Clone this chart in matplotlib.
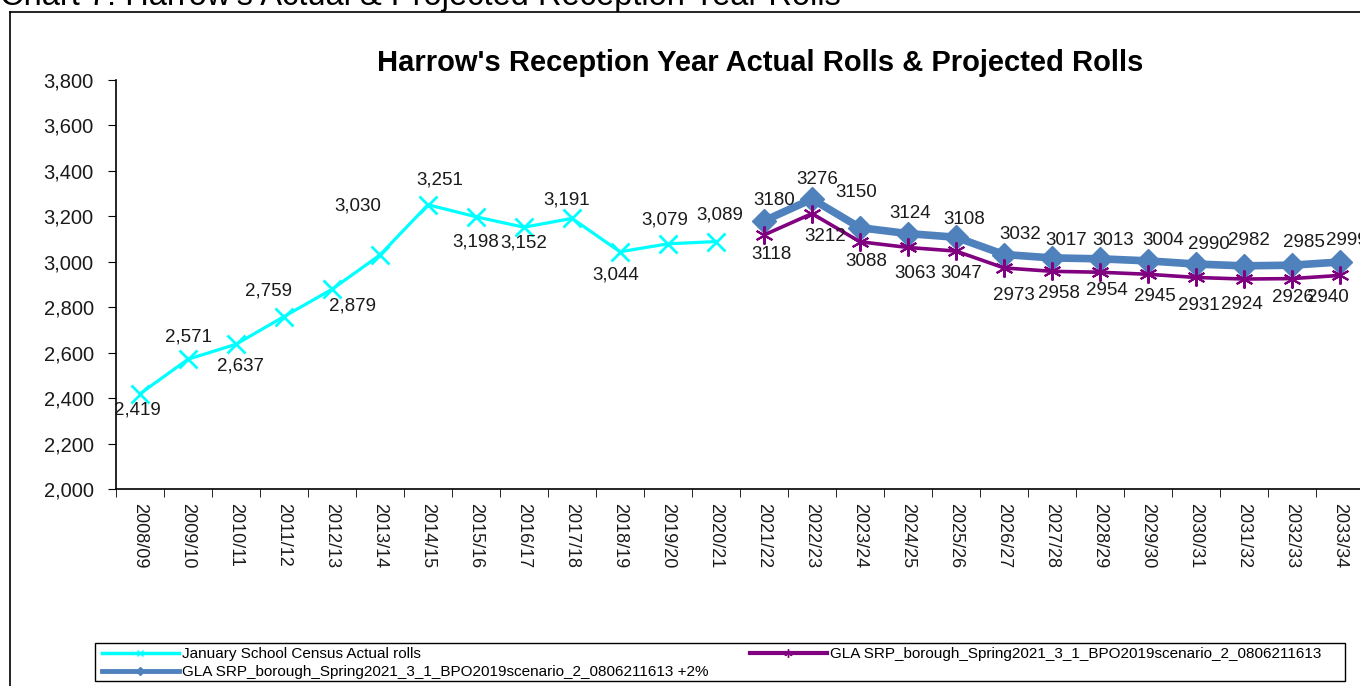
import numpy as np
import matplotlib.pyplot as plt
from matplotlib.lines import Line2D
from matplotlib.patches import Rectangle

plt.rcParams['font.family'] = ['Liberation Sans', 'DejaVu Sans']

years = ['2008/09', '2009/10', '2010/11', '2011/12', '2012/13', '2013/14', '2014/15',
         '2015/16', '2016/17', '2017/18', '2018/19', '2019/20', '2020/21', '2021/22',
         '2022/23', '2023/24', '2024/25', '2025/26', '2026/27', '2027/28', '2028/29',
         '2029/30', '2030/31', '2031/32', '2032/33', '2033/34']
actual = [2419, 2571, 2637, 2759, 2879, 3030, 3251, 3198, 3152, 3191, 3044, 3079, 3089]
proj_plus2 = [3180, 3276, 3150, 3124, 3108, 3032, 3017, 3013, 3004, 2990, 2982, 2985, 2999]
proj = [3118, 3212, 3088, 3063, 3047, 2973, 2958, 2954, 2945, 2931, 2924, 2926, 2940]

# label offsets in pixels (dx, dy; dy positive = up), as placed in the original
actual_off = [(-3, -16), (0, 22), (5, -22), (-15, 26), (20, -17), (-22, 49), (12, 25),
              (0, -25), (0, -16), (-5, 18), (-4, -23), (-3, 24), (4, 27)]
plus2_off = [(10, 20), (5, 20), (-4, 35), (2, 20), (8, 18), (16, 20), (14, 17),
             (13, 18), (15, 20), (13, 20), (5, 25), (12, 23), (7, 22)]
proj_off = [(7, -20), (13, -23), (6, -20), (7, -26), (5, -22), (10, -28), (7, -22),
            (7, -18), (7, -22), (3, -28), (-2, -25), (1, -19), (-12, -22)]

cyan = '#00FFFF'
blue = '#4F81BD'
purple = '#800080'
txt = '#1a1a1a'

W, H = 1360, 686
fig = plt.figure(figsize=(W/100, H/100), dpi=100)

# outer chart border (clipped at right/bottom)
fig.add_artist(Line2D([10/W, 10/W], [0, 1-12/H], color='black', lw=1.2, transform=fig.transFigure))
fig.add_artist(Line2D([10/W, 1], [1-12/H, 1-12/H], color='black', lw=1.2, transform=fig.transFigure))
fig.text(0, 1-5/H, "Chart 7: Harrow's Actual & Projected Reception Year Rolls",
         fontsize=23.5, va='baseline', ha='left')

step = 48
x0, x1 = 116, 116 + 26*step
ax = fig.add_axes([x0/W, 1-489/H, (x1-x0)/W, (489-80)/H])

n = len(actual)
xa = np.arange(n)
xp = np.arange(n, n + len(proj))

ax.plot(xa, actual, color=cyan, lw=2.3, marker='x', ms=13, mew=2, zorder=3)
ax.plot(xp, proj_plus2, color=blue, lw=5.5, marker='D', ms=12, zorder=3)
ax.plot(xp, proj, color=purple, lw=2.6, marker=(6, 2, 0), ms=13, mew=1.5, zorder=4)

px = 72/100  # pixels -> points
for xs, vals, offs, fmt in [(xa, actual, actual_off, '{:,}'),
                            (xp, proj_plus2, plus2_off, '{}'),
                            (xp, proj, proj_off, '{}')]:
    for x, v, (dx, dy) in zip(xs, vals, offs):
        ax.annotate(fmt.format(v), (x, v), xytext=(dx*px, dy*px), textcoords='offset points',
                    ha='center', va='center', fontsize=13.5, color=txt, zorder=5)

ax.set_xlim(-0.5, len(years) - 0.5)
ax.set_ylim(2000, 3800)
ax.set_yticks(range(2000, 3801, 200))
ax.set_yticklabels([f'{v:,}' for v in range(2000, 3801, 200)], color=txt)
ax.set_xticks(np.arange(len(years)))
ax.set_xticklabels(years, rotation=270, fontsize=13, color=txt)
ax.set_xticks(np.arange(len(years) + 1) - 0.5, minor=True)
ax.tick_params(axis='x', which='major', length=0, pad=10)
ax.tick_params(axis='x', which='minor', length=6, direction='out')
ax.tick_params(axis='y', labelsize=14.5, length=6, direction='out', pad=10)
for s in ['top', 'right']:
    ax.spines[s].set_visible(False)
for s in ['left', 'bottom']:
    ax.spines[s].set_linewidth(1.2)

fig.text(760/W, 1-63/H, "Harrow's Reception Year Actual Rolls & Projected Rolls",
         fontsize=21, fontweight='bold', ha='center', va='center')

# legend
fig.add_artist(Rectangle((95/W, 1-681/H), (1345-95)/W, 38/H, transform=fig.transFigure,
                         fill=False, edgecolor='black', lw=1.0))
handles = [
    Line2D([], [], color=cyan, lw=2.5, marker='x', ms=5),
    Line2D([], [], color=blue, lw=3.5, marker='D', ms=4),
    Line2D([], [], color=purple, lw=3, marker=(6, 2, 0), ms=6),
]
labels = ['January School Census Actual rolls',
          'GLA SRP_borough_Spring2021_3_1_BPO2019scenario_2_0806211613 +2%',
          'GLA SRP_borough_Spring2021_3_1_BPO2019scenario_2_0806211613']
leg = fig.legend(handles, labels, ncol=2, loc='upper left',
                 bbox_to_anchor=(93/W, 1-638/H), fontsize=11, frameon=False,
                 handlelength=5.0, labelspacing=0.25, borderpad=0.1, handletextpad=0.25,
                 columnspacing=2.7)

fig.savefig('out.png', dpi=100)
